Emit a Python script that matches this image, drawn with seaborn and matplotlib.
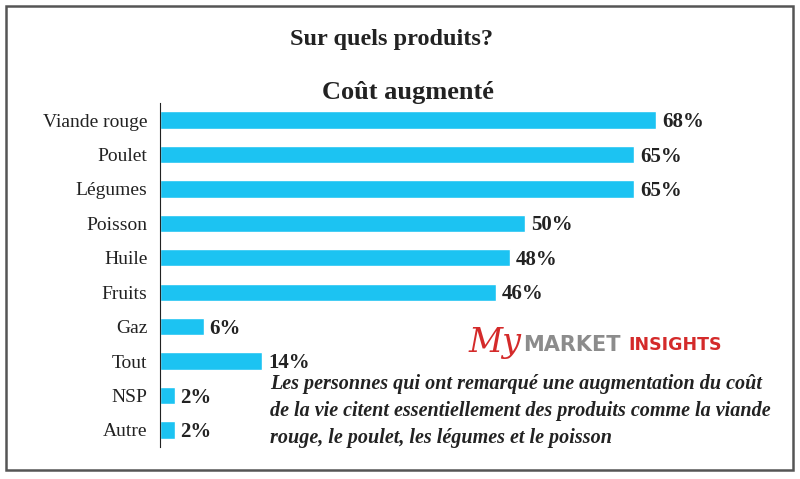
import pandas as pd
import matplotlib.pyplot as plt
import seaborn as sns
from matplotlib.patches import Rectangle

# data
produits = ['Viande rouge', 'Poulet', 'Légumes', 'Poisson', 'Huile',
            'Fruits', 'Gaz', 'Tout', 'NSP', 'Autre']
pourcentages = [68, 65, 65, 50, 48, 46, 6, 14, 2, 2]

df = pd.DataFrame({'produit': produits, 'pct': pourcentages})

sns.set_style('white')
plt.rcParams['font.family'] = ['Liberation Serif', 'DejaVu Serif']

fig = plt.figure(figsize=(8, 4.79), dpi=100)
ax = fig.add_axes([0.2, 0.0664, 0.7756, 0.719])

sns.barplot(data=df, x='pct', y='produit', color='#1cc3f2', width=0.5,
            saturation=1, orient='h', ax=ax)

ax.set_xlim(0, 85)
ax.set_ylim(9.5, -0.5)
ax.set_xlabel('')
ax.set_ylabel('')
ax.set_xticks([])
ax.tick_params(axis='y', length=0, pad=9, labelsize=14, labelcolor='#222222')
for s in ['top', 'right', 'bottom']:
    ax.spines[s].set_visible(False)
ax.spines['left'].set_color('#222222')
ax.spines['left'].set_linewidth(0.8)

for i, v in enumerate(pourcentages):
    ax.text(v + 0.8, i + 0.06, f'{v}%', va='center', ha='left',
            fontsize=15, fontweight='bold', color='#222222')

# titles
fig.text(0.49, 1 - 40 / 479, 'Sur quels produits?', ha='center', va='center',
         fontsize=17.5, fontweight='bold', color='#222222')
fig.text(0.51, 1 - 93 / 479, 'Coût augmenté', ha='center', va='center',
         fontsize=19, fontweight='bold', color='#222222')

# commentary
fig.text(270 / 800, 1 - 411 / 479,
         "Les personnes qui ont remarqué une augmentation du coût\n"
         "de la vie citent essentiellement des produits comme la viande\n"
         "rouge, le poulet, les légumes et le poisson",
         ha='left', va='center', fontsize=14.5, fontstyle='italic',
         fontweight='bold', color='#222222', linespacing=1.45)

# logo
fig.text(468 / 800, 1 - 343 / 479, 'My', ha='left', va='center', fontsize=24,
         fontstyle='italic', color='#d42a2a', family='DejaVu Serif')
fig.text(523 / 800, 1 - 345 / 479, 'MARKET', ha='left', va='center',
         fontsize=15, fontweight='bold', color='#8c8c8c', family='DejaVu Sans')
fig.text(628 / 800, 1 - 345 / 479, 'INSIGHTS', ha='left', va='center',
         fontsize=12.5, fontweight='bold', color='#d42a2a', family='DejaVu Sans')

# frame
fig.patches.append(Rectangle((6 / 800, 9 / 479), 787 / 800, 464 / 479,
                             transform=fig.transFigure, fill=False,
                             edgecolor='#555555', linewidth=1.8))

plt.savefig('out.png', dpi=100)
